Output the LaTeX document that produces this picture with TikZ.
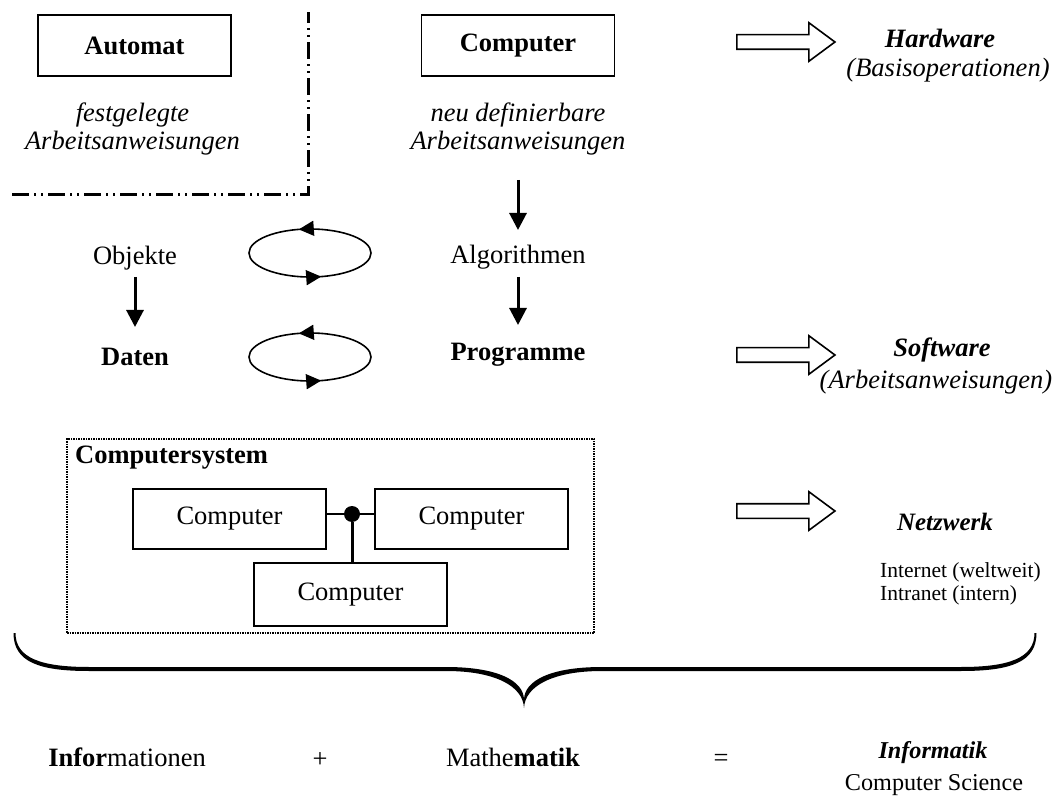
\documentclass[tikz,border=0pt]{standalone}
\usepackage{fontspec}
\setmainfont{Liberation Serif}
\usetikzlibrary{arrows.meta,shapes.geometric,shapes.arrows,decorations.markings}

\begin{document}
\fontsize{26.5}{28}\selectfont
\begin{tikzpicture}[x=1pt, y=-1pt,
    every node/.style={inner sep=2pt},
    box/.style={draw, line width=1.8pt, minimum width=193pt, minimum height=61pt},
    pc/.style={draw, line width=1.8pt, minimum width=193pt, minimum height=60pt},
    txt/.style={align=center, font=\itshape},
    head/.style={font=\bfseries\itshape},
    small/.style={font=\fontsize{21.5}{23}\selectfont},
    flow/.style={line width=3pt, -{Triangle[length=17pt,width=17pt]}},
    loop/.style={draw, ellipse, line width=1.6pt, minimum width=122pt, minimum height=48pt,
        inner sep=0pt, postaction={decorate}, decoration={markings,
        mark=at position 0.29 with {\arrow{Triangle[length=15pt,width=15pt]}},
        mark=at position 0.79 with {\arrow{Triangle[length=15pt,width=15pt]}}}},
    fat/.style={draw, line width=1.6pt, single arrow, single arrow head extend=12pt,
        single arrow tip angle=73, inner xsep=0pt, inner ysep=6.5pt, minimum height=98pt},
    sep/.style={line width=3pt, dash pattern=on 17pt off 5pt on 2pt off 5pt on 2pt off 5pt},
    sysbox/.style={draw, line width=1.5pt, dash pattern=on 1.5pt off 1pt,
        minimum width=527pt, minimum height=194pt},
    hub/.style={circle, fill, inner sep=0pt, minimum size=16pt}]
    \useasboundingbox (0,0) rectangle (1061,810);

    % Automat / Computer
    \node[box, font=\bfseries] (autom) at (134.5,45.5) {Automat};
    \node[txt] (adesc) at (132.5,129) {festgelegte\\Arbeitsanweisungen};
    \node[box, font=\bfseries] (comp) at (518,45.5) {Computer};
    \node[txt] (cdesc) at (518,129) {neu definierbare\\Arbeitsanweisungen};
    \draw[sep] (12,195) -- (308,195) -- (308,12);

    % Objekte, Algorithmen, Daten, Programme
    \node (obj) at (135,258) {Objekte};
    \node[loop] (loopa) at (310,253) {};
    \node (algo) at (518,257) {Algorithmen};
    \node[font=\bfseries] (daten) at (135,357) {Daten};
    \node[loop] (loopb) at (310,357) {};
    \node[font=\bfseries] (prog) at (518,355) {Programme};
    \draw[flow, shorten <=51pt, shorten >=27pt] (cdesc.center) -- (algo.center);
    \draw[flow, shorten <=20pt, shorten >=30pt] (algo.center) -- (prog.center);
    \draw[flow, shorten <=19pt, shorten >=30pt] (obj.center) -- (daten.center);

    % Computersystem
    \node[sysbox] (csys) at (330.5,536) {};
    \node[font=\bfseries, anchor=west] (cslabel) at (73,458) {Computersystem};
    \node[pc] (pc1) at (229.5,519) {Computer};
    \node[pc] (pc2) at (471.5,519) {Computer};
    \node[pc, minimum height=63pt] (pc3) at (350.5,594.5) {Computer};
    \node[hub] (hub) at (352,514) {};
    \draw[line width=1.8pt] (pc1.east |- hub) -- (hub) -- (pc2.west |- hub);
    \draw[line width=3pt] (hub) -- (hub |- pc3.north);

    % right column
    \node[fat] (hwar) at (781,42) {};
    \node[head] (hw) at (940,38) {Hardware};
    \node[font=\itshape] (hwsub) at (948,70) {(Basisoperationen)};
    \node[fat] (swar) at (781,355) {};
    \node[head] (sw) at (942,350) {Software};
    \node[font=\itshape] (swsub) at (936,382) {(Arbeitsanweisungen)};
    \node[fat] (nwar) at (781,511) {};
    \node[head, font=\fontsize{25}{27}\selectfont\bfseries\itshape] (nw) at (945,522) {Netzwerk};
    \node[small, anchor=west] (inet) at (878,572) {Internet (weltweit)};
    \node[small, anchor=west] (intra) at (878,595) {Intranet (intern)};

    % brace (thin ends, thick middle)
    \fill (15.5,633) .. controls (15.5,658) and (41,667) .. (89,667) -- (446,667)
        .. controls (496,667) and (524,680) .. (524,700)
        .. controls (524,680) and (552,667) .. (602,667) -- (961,667)
        .. controls (1009,667) and (1034.5,658) .. (1034.5,633) -- (1036.5,633)
        .. controls (1036.5,662) and (1011,671) .. (961,671) -- (602,671)
        .. controls (553,671) and (525,686) .. (524,708)
        .. controls (523,686) and (495,671) .. (446,671) -- (89,671)
        .. controls (39,671) and (13.5,662) .. (13.5,633) -- cycle;

    % sum
    \node (info) at (127,757) {\textbf{Infor}mationen};
    \node (plus) at (320,760) {+};
    \node (mathe) at (513,757) {Mathe\textbf{matik}};
    \node (eq) at (721,760) {=};
    \node[font=\fontsize{24.2}{26}\selectfont\bfseries\itshape] (infk) at (933,753) {Informatik};
    \node[font=\fontsize{24.2}{26}\selectfont] (csci) at (934,785) {Computer Science};
\end{tikzpicture}
\end{document}
